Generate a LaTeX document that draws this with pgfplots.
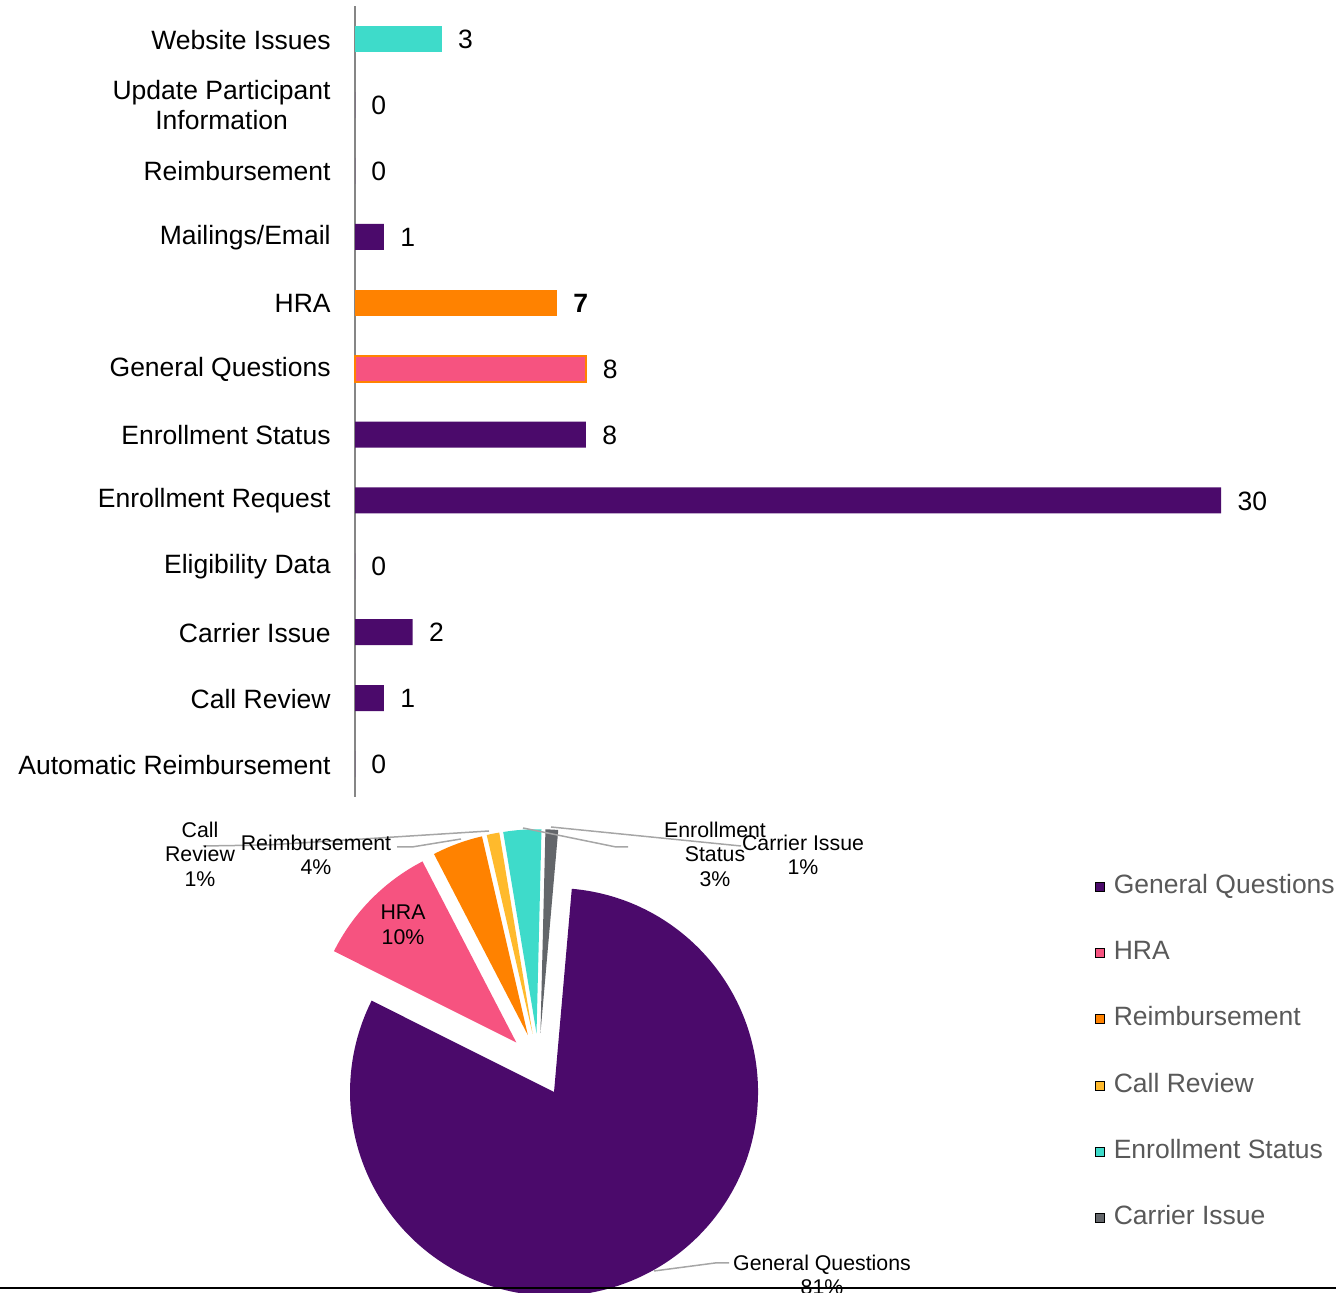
\documentclass[border=0pt]{standalone}
\usepackage{fontspec}
\setmainfont{Liberation Sans}
\usepackage{pgfplots}
\pgfplotsset{compat=1.18}
\usepackage{pgfplotstable}
\usetikzlibrary{calc}

\definecolor{purp}{HTML}{4B0A6B}
\definecolor{pinkc}{HTML}{F65380}
\definecolor{orangec}{HTML}{FF8200}
\definecolor{turq}{HTML}{3EDBCA}
\definecolor{yellowc}{HTML}{FFBA2C}
\definecolor{grayc}{HTML}{63666A}
\definecolor{axisgray}{HTML}{868686}
\definecolor{leadergray}{HTML}{A6A6A6}
\definecolor{legendgray}{HTML}{595959}
\colorlet{piec0}{purp}
\colorlet{piec1}{pinkc}
\colorlet{piec2}{orangec}
\colorlet{piec3}{yellowc}
\colorlet{piec4}{turq}
\colorlet{piec5}{grayc}

\newcommand\bigf{\fontsize{13.25}{15}\selectfont}
\newcommand\smallf{\fontsize{10.65}{12.25}\selectfont}

% pie shares (percent), in drawing order clockwise from the top
\pgfplotstableread{
slice value
0 81
1 10
2 4
3 1
4 3
5 1
}\pietable

\begin{document}
\begin{tikzpicture}
\useasboundingbox (0,0) rectangle (668pt,646.5pt);
\xdef\curang{85}
\foreach \i in {0,...,5}{%
  \pgfplotstablegetelem{\i}{value}\of\pietable
  \pgfmathsetmacro\sa{\curang}%
  \pgfmathsetmacro\ea{\curang-3.6*\pgfplotsretval}%
  \pgfmathsetmacro\ma{\curang-1.8*\pgfplotsretval}%
  \expandafter\xdef\csname pieS\i\endcsname{\sa}%
  \expandafter\xdef\csname pieE\i\endcsname{\ea}%
  \expandafter\xdef\csname pieM\i\endcsname{\ma}%
  \xdef\curang{\ea}%
}

% ---------------- pie + legend (pixel frame) ----------------
\begin{axis}[at={(0pt,0pt)}, anchor=south west, x=0.5pt, y=0.5pt,
  xmin=0, xmax=1336, ymin=0, ymax=1293, hide axis, clip=false,
  legend image code/.code={\fill[#1] (0pt,-2.25pt) rectangle (4.5pt,2.25pt);},
  legend style={at={(axis cs:1095,418.5)}, anchor=north west, draw=none, fill=none,
    inner sep=0pt, outer sep=0pt, row sep=20.6pt, font=\bigf, text=legendgray,
    nodes={inner sep=0pt, text height=9.5pt, text depth=3pt},
    /tikz/every odd column/.append style={column sep=4.5pt}},
  legend cell align=left]
\pgfplotsinvokeforeach{0,...,5}{
  \fill[piec#1] ($(axis cs:538.7,228.4)+(\csname pieM#1\endcsname:15.7pt)$)
     -- ++(\csname pieS#1\endcsname:102pt)
     arc[start angle=\csname pieS#1\endcsname, end angle=\csname pieE#1\endcsname, radius=102pt] -- cycle;
}
% leader lines
\draw[leadergray, line width=0.75pt] (axis cs:203,447) -- (axis cs:268,448) -- (axis cs:489,462);
\draw[leadergray, line width=0.75pt] (axis cs:397,446) -- (axis cs:412,446) -- (axis cs:461,454);
\draw[leadergray, line width=0.75pt] (axis cs:628,446) -- (axis cs:616,446) -- (axis cs:523,465);
\draw[leadergray, line width=0.75pt] (axis cs:741,447) -- (axis cs:551,466);
\draw[leadergray, line width=0.75pt] (axis cs:654,22) -- (axis cs:715,30) -- (axis cs:729,30);
% data labels
\node[font=\smallf, align=center, inner sep=0pt] at (axis cs:403,368) {HRA\\10\%};
\node[font=\smallf, align=center, inner sep=0pt] at (axis cs:316,438) {Reimbursement\\4\%};
\node[font=\smallf, align=center, inner sep=0pt] at (axis cs:200,439) {Call\\Review\\1\%};
\node[font=\smallf, align=center, inner sep=0pt] at (axis cs:715,439) {Enrollment\\Status\\3\%};
\node[font=\smallf, align=center, inner sep=0pt] at (axis cs:803,438) {Carrier Issue\\1\%};
\node[font=\smallf, align=center, inner sep=0pt] at (axis cs:822,18) {General Questions\\81\%};
\draw[black, line width=1pt] (axis cs:0,4.5) -- (axis cs:1336,4.5);
\addlegendimage{fill=purp}\addlegendentry{General Questions}
\addlegendimage{fill=pinkc}\addlegendentry{HRA}
\addlegendimage{fill=orangec}\addlegendentry{Reimbursement}
\addlegendimage{fill=yellowc}\addlegendentry{Call Review}
\addlegendimage{fill=turq}\addlegendentry{Enrollment Status}
\addlegendimage{fill=grayc}\addlegendentry{Carrier Issue}
\end{axis}

% ---------------- bar chart ----------------
\begin{axis}[at={(177.5pt,248pt)}, anchor=south west,
  x=14.435pt, y=32.95pt, xmin=0, xmax=34, ymin=-0.5, ymax=11.5,
  axis x line=none, axis y line*=left,
  axis line style={draw=axisgray, line width=1pt, -},
  ytick={0,...,11},
  yticklabels={Automatic Reimbursement, Call Review, Carrier Issue, Eligibility Data,
    Enrollment Request, Enrollment Status, General Questions, HRA, Mailings/Email,
    Reimbursement, {Update Participant\\Information}, Website Issues},
  major tick length=0pt, ytick style={draw=none},
  yticklabel style={font=\bigf, align=center, inner sep=0pt, xshift=-12pt, yshift=-0.25pt},
  /pgf/number format/assume math mode=true, clip=false,
  every axis plot/.append style={xbar, bar width=13pt, bar shift=0pt, draw=none,
    point meta=x, nodes near coords,
    nodes near coords style={font=\bigf, anchor=west, inner sep=0pt, xshift=8pt, yshift=-0.25pt}}]
\addplot[fill=purp] coordinates {(0,0) (1,1) (2,2) (0,3) (30,4) (8,5) (1,8) (0,9) (0,10)};
\addplot[fill=pinkc, draw=orangec, line width=1pt] coordinates {(8,6)};
\addplot[fill=orangec, nodes near coords style={font=\bigf\bfseries}] coordinates {(7,7)};
\addplot[fill=turq] coordinates {(3,11)};
\end{axis}
\end{tikzpicture}
\end{document}
